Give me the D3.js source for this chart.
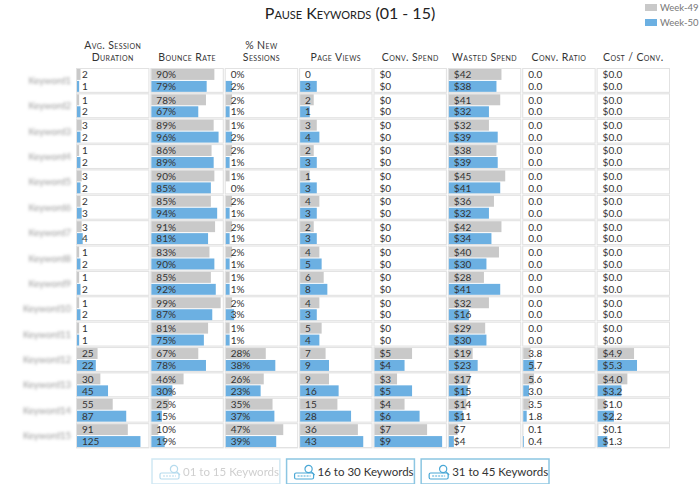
<!DOCTYPE html>
<html>
<head>
<meta charset="utf-8">
<script src="https://cdn.jsdelivr.net/npm/d3@7/dist/d3.min.js"></script>
<style>
  html, body { margin: 0; padding: 0; background: #ffffff; }
  svg { display: block; font-family: Lato, "Open Sans", sans-serif; }
</style>
</head>
<body>
<svg id="chart" width="700" height="484"></svg>
<script>
// ── Data ─────────────────────────────────────────────
const keywords = ['Keyword1', 'Keyword2', 'Keyword3', 'Keyword4', 'Keyword5',
  'Keyword6', 'Keyword7', 'Keyword8', 'Keyword9', 'Keyword10',
  'Keyword11', 'Keyword12', 'Keyword13', 'Keyword14', 'Keyword15'];
const seriesNames = ['Week-49', 'Week-50'];

const avgSession49  = [2, 1, 3, 1, 3, 2, 3, 1, 1, 1, 1, 25, 30, 55, 91];
const avgSession50  = [1, 2, 2, 2, 2, 3, 4, 2, 2, 2, 1, 22, 45, 87, 125];
const bounce49      = [90, 78, 89, 86, 90, 85, 91, 83, 85, 99, 81, 67, 46, 25, 10];
const bounce50      = [79, 67, 96, 89, 85, 94, 81, 90, 92, 87, 75, 78, 30, 15, 19];
const newSess49     = [0, 2, 1, 2, 1, 2, 2, 2, 1, 2, 1, 28, 26, 35, 47];
const newSess50     = [2, 1, 2, 1, 0, 1, 1, 1, 1, 3, 1, 38, 23, 37, 39];
const pageViews49   = [0, 2, 3, 2, 1, 4, 2, 4, 6, 4, 5, 7, 9, 15, 36];
const pageViews50   = [3, 1, 4, 3, 3, 3, 3, 5, 8, 3, 4, 9, 16, 28, 43];
const convSpend49   = [0, 0, 0, 0, 0, 0, 0, 0, 0, 0, 0, 5, 3, 4, 7];
const convSpend50   = [0, 0, 0, 0, 0, 0, 0, 0, 0, 0, 0, 4, 5, 6, 9];
const wasted49      = [42, 41, 32, 38, 45, 36, 42, 40, 28, 32, 29, 19, 17, 14, 7];
const wasted50      = [38, 32, 39, 39, 41, 32, 34, 30, 41, 16, 30, 23, 15, 11, 4];
const convRatio49   = [0, 0, 0, 0, 0, 0, 0, 0, 0, 0, 0, 3.8, 5.6, 3.5, 0.1];
const convRatio50   = [0, 0, 0, 0, 0, 0, 0, 0, 0, 0, 0, 5.7, 3.0, 1.8, 0.4];
const costConv49    = [0, 0, 0, 0, 0, 0, 0, 0, 0, 0, 0, 4.9, 4.0, 1.0, 0.1];
const costConv50    = [0, 0, 0, 0, 0, 0, 0, 0, 0, 0, 0, 5.3, 3.2, 2.2, 1.3];

const pageButtons = ['01 to 15 Keywords', '16 to 30 Keywords', '31 to 45 Keywords'];

// column table (domain max / exponent = scale settings shared by all 45 keywords)
const columns = [
  { head: ['Avg. Session', 'Duration'], a: avgSession49, b: avgSession50, fmt: d => d3.format('d')(d),         exp: 0.7, max: 148 },
  { head: ['Bounce Rate'],              a: bounce49,     b: bounce50,     fmt: d => d + '%',                    exp: 1,   max: 102 },
  { head: ['% New', 'Sessions'],        a: newSess49,    b: newSess50,    fmt: d => d + '%',                    exp: 0.7, max: 64 },
  { head: ['Page Views'],               a: pageViews49,  b: pageViews50,  fmt: d => d3.format('d')(d),         exp: 0.5, max: 55 },
  { head: ['Conv. Spend'],              a: convSpend49,  b: convSpend50,  fmt: d => '$' + d3.format('d')(d),   exp: 1,   max: 9.5 },
  { head: ['Wasted Spend'],             a: wasted49,     b: wasted50,     fmt: d => '$' + d3.format('d')(d),   exp: 1,   max: 57 },
  { head: ['Conv. Ratio'],              a: convRatio49,  b: convRatio50,  fmt: d => d3.format('.1f')(d),       exp: 1,   max: 37 },
  { head: ['Cost / Conv.'],             a: costConv49,   b: costConv50,   fmt: d => '$' + d3.format('.1f')(d), exp: 1,   max: 9.6 }
];

// ── Layout ───────────────────────────────────────────
const GRAY = '#c9c9c9';
const BLUE = '#6cb0e2';
const TEXT = '#333';

const svg = d3.select('#chart');

const defs = svg.append('defs');
defs.append('filter').attr('id', 'blur')
  .attr('x', '-20%').attr('y', '-60%').attr('width', '140%').attr('height', '220%')
  .append('feGaussianBlur').attr('stdDeviation', 1.7);
const shadow = defs.append('filter').attr('id', 'shadow')
  .attr('x', '-10%').attr('y', '-20%').attr('width', '120%').attr('height', '140%');
shadow.append('feDropShadow').attr('dx', 0).attr('dy', 0.6).attr('stdDeviation', 0.6)
  .attr('flood-color', '#000').attr('flood-opacity', 0.07);

const colX = d3.scaleBand()
  .domain(d3.range(columns.length))
  .range([77, 669])
  .paddingInner(0.04);
const boxW = colX.bandwidth();

const rowY = d3.scaleBand()
  .domain(keywords)
  .range([69, 447])
  .paddingInner(0.1);
const boxH = rowY.bandwidth();

// ── Title ────────────────────────────────────────────
svg.append('text')
  .attr('x', 350).attr('y', 19)
  .attr('text-anchor', 'middle')
  .attr('font-size', 16)
  .attr('font-variant', 'small-caps')
  .attr('fill', '#222')
  .text('Pause Keywords (01 - 15)');

// ── Legend ───────────────────────────────────────────
const legend = svg.append('g').attr('transform', 'translate(645,4)');
seriesNames.forEach((name, i) => {
  legend.append('rect')
    .attr('x', 0).attr('y', i * 15)
    .attr('width', 12).attr('height', 7)
    .attr('fill', i === 0 ? GRAY : BLUE);
  legend.append('text')
    .attr('x', 15).attr('y', i * 15 + 7)
    .attr('font-size', 9.5)
    .attr('fill', '#777')
    .text(name);
});

// ── Column headers ───────────────────────────────────
columns.forEach((col, ci) => {
  const cx = colX(ci) + boxW / 2;
  const lines = col.head;
  lines.forEach((ln, li) => {
    svg.append('text')
      .attr('x', cx)
      .attr('y', 61 - (lines.length - 1 - li) * 12.5)
      .attr('text-anchor', 'middle')
      .attr('font-size', 10.5)
      .attr('font-variant', 'small-caps')
      .attr('letter-spacing', 0.4)
      .attr('fill', TEXT)
      .text(ln);
  });
});

// ── Row labels (blurred) ─────────────────────────────
svg.append('g')
  .attr('filter', 'url(#blur)')
  .selectAll('text')
  .data(keywords)
  .join('text')
    .attr('x', 71)
    .attr('y', d => rowY(d) + boxH / 2 + 3.5)
    .attr('text-anchor', 'end')
    .attr('font-size', 9.5)
    .attr('fill', '#999')
    .text(d => d);

// ── Cells ────────────────────────────────────────────
const half = boxH / 2;

columns.forEach((col, ci) => {
  const x = d3.scalePow().exponent(col.exp)
    .domain([0, col.max])
    .range([0, boxW]);

  const g = svg.append('g').attr('transform', `translate(${colX(ci)},0)`);

  const cells = g.selectAll('g.cell')
    .data(keywords.map((k, i) => ({ k, a: col.a[i], b: col.b[i] })))
    .join('g')
      .attr('class', 'cell')
      .attr('transform', d => `translate(0,${rowY(d.k)})`);

  cells.append('rect')
    .attr('x', -0.5).attr('y', -0.5)
    .attr('width', boxW + 1).attr('height', boxH + 1)
    .attr('fill', '#fff')
    .attr('stroke', '#e2e2e2')
    .attr('stroke-width', 1)
    .attr('filter', 'url(#shadow)');

  cells.append('rect')
    .attr('x', 0).attr('y', 0)
    .attr('width', d => x(d.a))
    .attr('height', half - 0.5)
    .attr('fill', GRAY);

  cells.append('rect')
    .attr('x', 0).attr('y', half + 0.5)
    .attr('width', d => x(d.b))
    .attr('height', half - 0.5)
    .attr('fill', BLUE);

  cells.append('text')
    .attr('x', 5).attr('y', half / 2 + 3.6)
    .attr('font-size', 10)
    .attr('fill', TEXT)
    .text(d => col.fmt(d.a));

  cells.append('text')
    .attr('x', 5).attr('y', half + half / 2 + 4)
    .attr('font-size', 10)
    .attr('fill', TEXT)
    .text(d => col.fmt(d.b));
});

// ── Paging buttons ───────────────────────────────────
const btnX = d3.scaleBand()
  .domain(pageButtons)
  .range([152, 549])
  .paddingInner(0.05);

const btn = svg.selectAll('g.btn')
  .data(pageButtons)
  .join('g')
    .attr('class', 'btn')
    .attr('transform', d => `translate(${btnX(d)},459)`)
    .attr('opacity', (d, i) => i === 0 ? 0.4 : 1);

btn.append('rect')
  .attr('x', 0).attr('y', 0)
  .attr('width', btnX.bandwidth()).attr('height', 25)
  .attr('fill', '#fff')
  .attr('stroke', '#8cc6e2')
  .attr('stroke-width', 1.5);

// small keyboard + magnifier icon
const icon = btn.append('g').attr('transform', 'translate(8,5)')
  .attr('fill', 'none').attr('stroke', '#4aa8d6').attr('stroke-width', 1.2);
icon.append('rect').attr('x', 0).attr('y', 9).attr('width', 19).attr('height', 6).attr('rx', 1.5);
icon.append('line').attr('x1', 3).attr('x2', 16).attr('y1', 12).attr('y2', 12).attr('stroke-dasharray', '2 1');
icon.append('circle').attr('cx', 14).attr('cy', 5).attr('r', 3.6).attr('fill', '#fff');
icon.append('line').attr('x1', 16.6).attr('y1', 7.6).attr('x2', 20).attr('y2', 11);

btn.append('text')
  .attr('x', 31).attr('y', 17)
  .attr('font-size', 11.5)
  .attr('fill', (d, i) => i === 0 ? '#888' : '#333')
  .text(d => d);
</script>
</body>
</html>
